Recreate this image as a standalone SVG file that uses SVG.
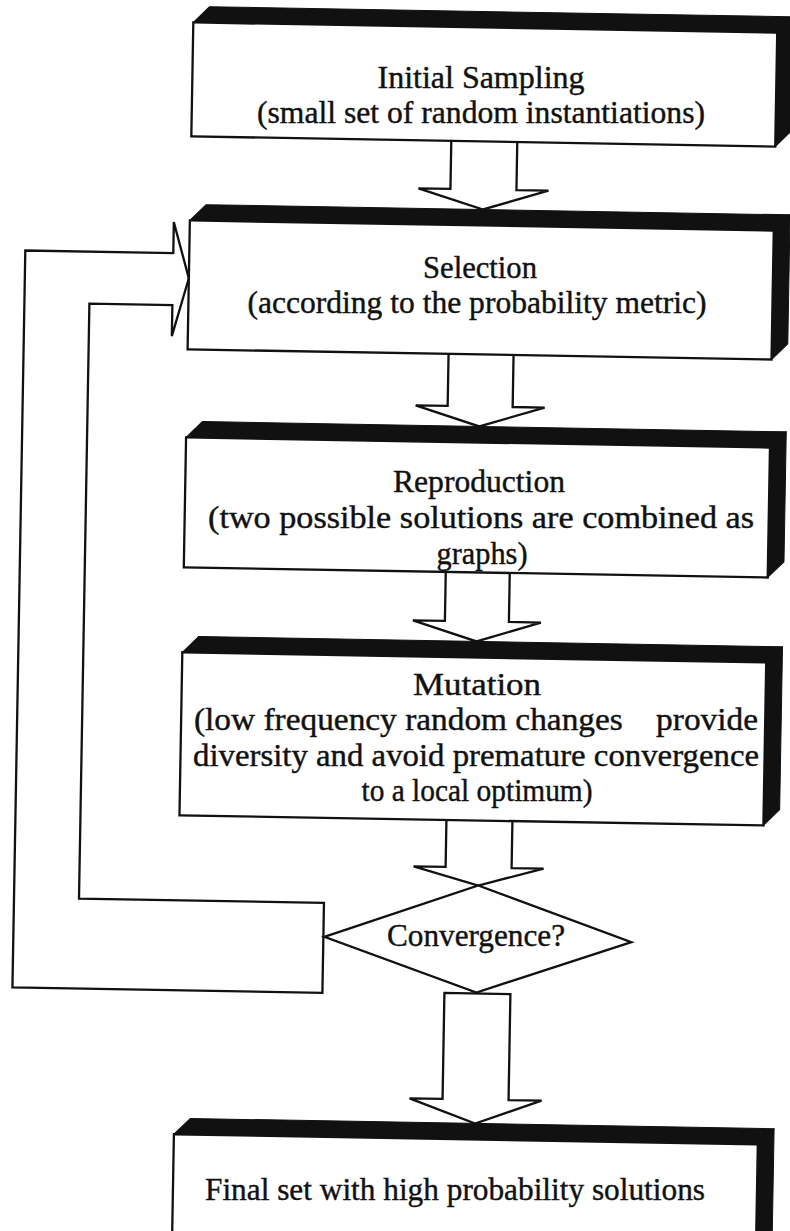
<svg xmlns="http://www.w3.org/2000/svg" width="790" height="1231" viewBox="0 0 790 1231">
  <style>
    .face{fill:#fff;stroke:#111;stroke-width:2.3;stroke-linejoin:miter}
    .depth{fill:#111;stroke:#111;stroke-width:1;stroke-linejoin:round}
    .conn{fill:#fff;stroke:#111;stroke-width:2.3;stroke-linejoin:miter}
    .lbl{font-family:"Liberation Serif","Times New Roman",serif;font-size:31px;fill:#111;stroke:#111;stroke-width:0.4;text-anchor:middle}
    .big{font-size:32.5px}
  </style>
  <rect width="790" height="1231" fill="#fff"/>
  <!-- shapes sit slightly tilted, as on the printed page (rotate 1deg about the centre) -->
  <g id="connectors" transform="rotate(1 395 615)">
    <!-- block arrows between stages -->
    <path class="conn" d="M443 140 V188 H411 L476 208 L541 188 H509 V140"/>
    <path class="conn" d="M444 353 V405 H412 L476 425 L541 405 H509 V353"/>
    <path class="conn" d="M445 571 V620 H413 L477 640 L541 620 H509 V571"/>
    <path class="conn" d="M450 819 V866 H418 L483 884 L548 866 H516 V819"/>
    <path class="conn" d="M451 992 H517 V1098 H550 L484 1122 L418 1098 H451 Z"/>
    <!-- loop back from the decision to Selection -->
    <path class="conn" d="M329 904 H84 V309 H167 V340 L183 282 L167 226 V257 H19 V994 H329 Z"/>
  </g>

  <g id="initial-sampling">
    <g transform="rotate(1 395 615)">
      <polygon class="depth" points="183,26 199,10 783,10 767,26"/>
      <polygon class="depth" points="767,26 783,10 783,124 767,140"/>
      <rect class="face" x="183" y="26" width="584" height="114"/>
    </g>
    <text class="lbl" x="481" y="88" textLength="207" lengthAdjust="spacingAndGlyphs">Initial Sampling</text>
    <text class="lbl" x="481" y="123" textLength="448" lengthAdjust="spacingAndGlyphs">(small set of random instantiations)</text>
  </g>

  <g id="selection">
    <g transform="rotate(1 395 615)">
      <polygon class="depth" points="183,224 199,208 783,208 767,224"/>
      <polygon class="depth" points="767,224 783,208 783,337 767,353"/>
      <rect class="face" x="183" y="224" width="584" height="129"/>
    </g>
    <text class="lbl" x="480" y="278" textLength="114" lengthAdjust="spacingAndGlyphs">Selection</text>
    <text class="lbl" x="477" y="313" textLength="459" lengthAdjust="spacingAndGlyphs">(according to the probability metric)</text>
  </g>

  <g id="reproduction">
    <g transform="rotate(1 395 615)">
      <polygon class="depth" points="183,441 199,425 783,425 767,441"/>
      <polygon class="depth" points="767,441 783,425 783,555 767,571"/>
      <rect class="face" x="183" y="441" width="584" height="130"/>
    </g>
    <text class="lbl" x="479" y="492" textLength="172" lengthAdjust="spacingAndGlyphs">Reproduction</text>
    <text class="lbl" x="481" y="528" textLength="546" lengthAdjust="spacingAndGlyphs">(two possible solutions are combined as</text>
    <text class="lbl" x="482" y="564" textLength="91" lengthAdjust="spacingAndGlyphs">graphs)</text>
  </g>

  <g id="mutation">
    <g transform="rotate(1 395 615)">
      <polygon class="depth" points="183,656 199,640 783,640 767,656"/>
      <polygon class="depth" points="767,656 783,640 783,803 767,819"/>
      <rect class="face" x="183" y="656" width="584" height="163"/>
    </g>
    <text class="lbl" x="477" y="695" textLength="128" lengthAdjust="spacingAndGlyphs">Mutation</text>
    <text class="lbl" x="476" y="730" textLength="564" lengthAdjust="spacingAndGlyphs">(low frequency random changes&#160;&#160;&#160;&#160;provide</text>
    <text class="lbl" x="476" y="766" textLength="566" lengthAdjust="spacingAndGlyphs">diversity and avoid premature convergence</text>
    <text class="lbl" x="477" y="801" textLength="231" lengthAdjust="spacingAndGlyphs">to a local optimum)</text>
  </g>

  <g id="convergence">
    <g transform="rotate(1 395 615)">
      <polygon class="face" points="483,884 637,938 483,991 330,938"/>
    </g>
    <text class="lbl big" x="476" y="946" textLength="178" lengthAdjust="spacingAndGlyphs">Convergence?</text>
  </g>

  <g id="final-set">
    <g transform="rotate(1 395 615)">
      <polygon class="depth" points="183,1138 199,1122 783,1122 767,1138"/>
      <polygon class="depth" points="767,1138 783,1122 783,1254 767,1270"/>
      <rect class="face" x="183" y="1138" width="584" height="132"/>
    </g>
    <text class="lbl big" x="455" y="1200" textLength="500" lengthAdjust="spacingAndGlyphs">Final set with high probability solutions</text>
  </g>
</svg>
